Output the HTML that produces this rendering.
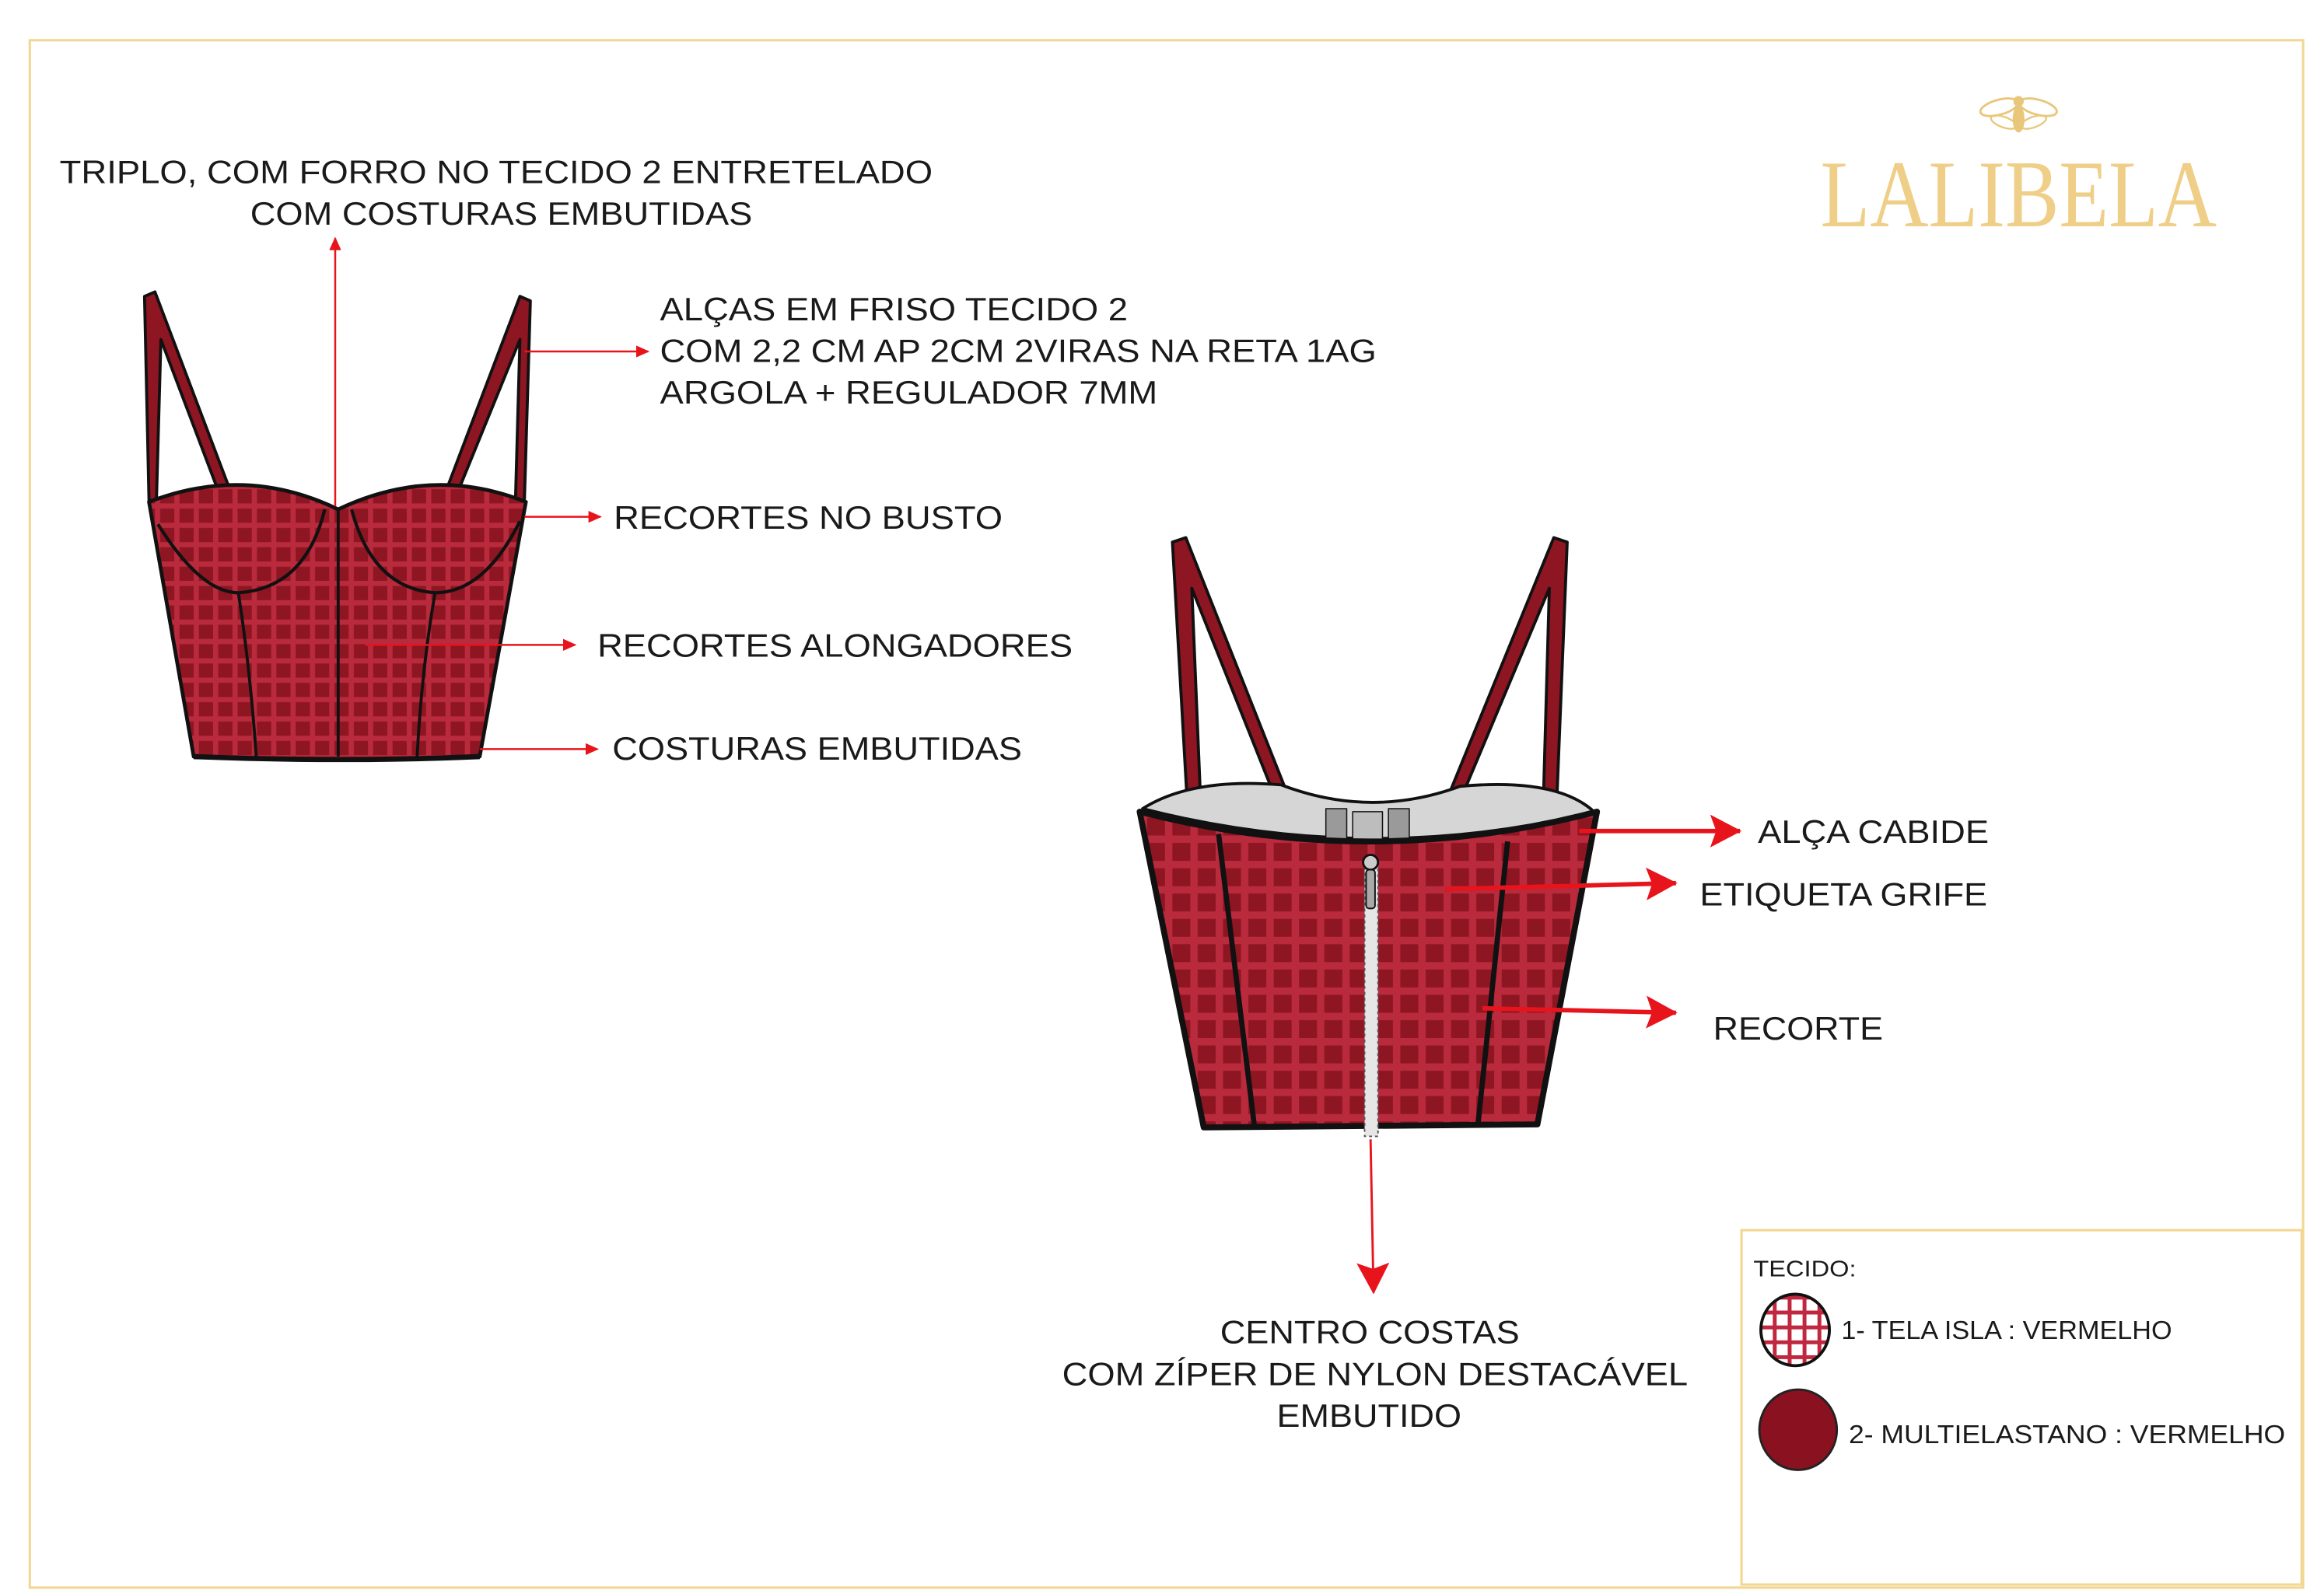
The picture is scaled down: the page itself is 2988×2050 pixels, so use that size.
<!DOCTYPE html>
<html><head><meta charset="utf-8"><style>
html,body{margin:0;padding:0;background:#fff;}
svg{display:block;}
text{font-family:"Liberation Sans",sans-serif;fill:#1a1a1a;}
</style></head><body>
<svg width="2988" height="2050" viewBox="0 0 1560 1070.3" xmlns="http://www.w3.org/2000/svg">
<defs>
<pattern id="chk" width="13" height="13" patternUnits="userSpaceOnUse">
<rect width="13" height="13" fill="#8e1522"/>
<rect x="0" y="0" width="13" height="3.5" fill="#b82a3c"/>
<rect x="0" y="0" width="3.5" height="13" fill="#b82a3c"/>
</pattern>
<pattern id="chk2" width="17" height="17" patternUnits="userSpaceOnUse">
<rect width="17" height="17" fill="#8e1522"/>
<rect x="0" y="0" width="17" height="5" fill="#b82a3c"/>
<rect x="0" y="0" width="5" height="17" fill="#b82a3c"/>
</pattern>
<pattern id="leg" width="10" height="10" patternUnits="userSpaceOnUse">
<rect width="10" height="10" fill="#fff"/>
<rect width="10" height="2.6" fill="#c0283f"/>
<rect width="2.6" height="10" fill="#c0283f"/>
</pattern>
<marker id="ah" markerWidth="10" markerHeight="10" refX="8" refY="5" orient="auto" markerUnits="userSpaceOnUse">
<path d="M0,1 L9,5 L0,9 Z" fill="#e8141c"/>
</marker>
<marker id="ahb" markerWidth="22" markerHeight="22" refX="20" refY="11" orient="auto" markerUnits="userSpaceOnUse">
<path d="M0,0 L21,11 L0,22 L4,11 Z" fill="#e8141c"/>
</marker>
</defs>
<rect x="20" y="27" width="1526" height="1039" fill="none" stroke="#f2d792" stroke-width="1.6"/>
<rect x="1169" y="826" width="376" height="238" fill="none" stroke="#f2d792" stroke-width="1.6"/>

<!-- logo -->
<g fill="#e9c77a">
<ellipse cx="1355" cy="80" rx="4" ry="9"/>
<circle cx="1355" cy="68" r="3.5"/>
<ellipse cx="1342" cy="72" rx="13" ry="5" transform="rotate(-15 1342 72)" fill="none" stroke="#e9c77a" stroke-width="1.5"/>
<ellipse cx="1368" cy="72" rx="13" ry="5" transform="rotate(15 1368 72)" fill="none" stroke="#e9c77a" stroke-width="1.5"/>
<ellipse cx="1345" cy="82" rx="9" ry="3.5" transform="rotate(20 1345 82)" fill="none" stroke="#e9c77a" stroke-width="1.2"/>
<ellipse cx="1365" cy="82" rx="9" ry="3.5" transform="rotate(-20 1365 82)" fill="none" stroke="#e9c77a" stroke-width="1.2"/>
</g>
<text x="1222" y="152" style="font-family:'Liberation Serif',serif;fill:#efcf87" font-size="64" textLength="266" lengthAdjust="spacingAndGlyphs">LALIBELA</text>

<!-- front garment -->
<g stroke="#111" stroke-linejoin="round">
<path d="M97,199 L104,196 L154,328 L147,331 L108,228 L105,336 L100,336 Z" fill="#8e1522" stroke-width="2"/>
<path d="M356,202 L349,199 L300,328 L307,331 L349,228 L346,336 L352,336 Z" fill="#8e1522" stroke-width="2"/>
<path d="M100,337 Q165,312 227,342 Q290,312 353,337 L322,508 Q230,512 130,508 Z" fill="url(#chk)" stroke-width="2.5"/>
<path d="M106,352 Q135,398 160,398 Q205,395 218,342" fill="none" stroke-width="2.2"/>
<path d="M236,342 Q250,395 292,398 Q325,398 349,350" fill="none" stroke-width="2.2"/>
<path d="M227,342 L227,508 M160,398 Q168,450 172,508 M292,398 Q283,450 280,508" fill="none" stroke-width="2"/>
<path d="M130,508 Q230,512 322,508" fill="none" stroke-width="3.5"/>
</g>

<!-- back garment -->
<g stroke="#111" stroke-linejoin="round">
<path d="M787,364 L796,361 L863,530 L855,533 L800,395 L806,540 L797,540 Z" fill="#8e1522" stroke-width="2"/>
<path d="M1052,364 L1043,361 L974,530 L982,533 L1040,395 L1036,538 L1045,538 Z" fill="#8e1522" stroke-width="2"/>
<path d="M767,543 Q800,522 860,527 Q920,550 980,528 Q1045,522 1070,545 Q920,582 767,543 Z" fill="#d6d6d6" stroke-width="2"/>
<rect x="890" y="543" width="14" height="28" fill="#9a9a9a" stroke-width="0.8"/>
<rect x="932" y="543" width="14" height="28" fill="#9a9a9a" stroke-width="0.8"/>
<rect x="908" y="545" width="20" height="28" fill="#bdbdbd" stroke-width="0.8"/>
<path d="M765,545 Q920,585 1072,545 L1032,755 L808,757 Z" fill="url(#chk2)" stroke-width="4"/>
<path d="M818,560 L842,756 M1012,565 L992,756" fill="none" stroke-width="3.5"/>
<rect x="916" y="580" width="9" height="183" fill="#e6e6e6" stroke="#555" stroke-width="1" stroke-dasharray="2 2"/>
<circle cx="920" cy="579" r="5" fill="#ccc" stroke-width="1.5"/>
<rect x="917" y="584" width="6" height="26" rx="2" fill="#aaa" stroke-width="1"/>
</g>

<!-- arrows -->
<g stroke="#e8141c" stroke-width="1.3" fill="none">
<line x1="225" y1="340" x2="225" y2="160" marker-end="url(#ah)"/>
<line x1="352" y1="236" x2="435" y2="236" marker-end="url(#ah)"/>
<line x1="352" y1="347" x2="403" y2="347" marker-end="url(#ah)"/>
<line x1="245" y1="433" x2="386" y2="433" marker-end="url(#ah)"/>
<line x1="322" y1="503" x2="401" y2="503" marker-end="url(#ah)"/>
<line x1="920" y1="765" x2="922" y2="868" marker-end="url(#ahb)" stroke-width="1.5"/>
</g>
<g stroke="#e8141c" stroke-width="3" fill="none">
<line x1="1060" y1="558" x2="1168" y2="558" marker-end="url(#ahb)"/>
<line x1="970" y1="597" x2="1125" y2="593" marker-end="url(#ahb)"/>
<line x1="995" y1="677" x2="1125" y2="680" marker-end="url(#ahb)"/>
</g>

<!-- labels -->
<g font-size="22" lengthAdjust="spacingAndGlyphs">
<text x="40" y="123" textLength="586" lengthAdjust="spacingAndGlyphs">TRIPLO, COM FORRO NO TECIDO 2 ENTRETELADO</text>
<text x="168" y="151" textLength="337" lengthAdjust="spacingAndGlyphs">COM COSTURAS EMBUTIDAS</text>
<text x="443" y="215" textLength="314" lengthAdjust="spacingAndGlyphs">ALÇAS EM FRISO TECIDO 2</text>
<text x="443" y="243" textLength="481" lengthAdjust="spacingAndGlyphs">COM 2,2 CM AP 2CM 2VIRAS NA RETA 1AG</text>
<text x="443" y="271" textLength="334" lengthAdjust="spacingAndGlyphs">ARGOLA + REGULADOR 7MM</text>
<text x="412" y="355" textLength="261" lengthAdjust="spacingAndGlyphs">RECORTES NO BUSTO</text>
<text x="401" y="441" textLength="319" lengthAdjust="spacingAndGlyphs">RECORTES ALONGADORES</text>
<text x="411" y="510" textLength="275" lengthAdjust="spacingAndGlyphs">COSTURAS EMBUTIDAS</text>
<text x="1180" y="566" textLength="155" lengthAdjust="spacingAndGlyphs">ALÇA CABIDE</text>
<text x="1141" y="608" textLength="193" lengthAdjust="spacingAndGlyphs">ETIQUETA GRIFE</text>
<text x="1150" y="698" textLength="114" lengthAdjust="spacingAndGlyphs">RECORTE</text>
<text x="819" y="902" textLength="201" lengthAdjust="spacingAndGlyphs">CENTRO COSTAS</text>
<text x="713" y="930" textLength="420" lengthAdjust="spacingAndGlyphs">COM ZÍPER DE NYLON DESTACÁVEL</text>
<text x="857" y="958" textLength="124" lengthAdjust="spacingAndGlyphs">EMBUTIDO</text>
</g>

<!-- legend -->
<text x="1177" y="857" font-size="15" textLength="69" lengthAdjust="spacingAndGlyphs">TECIDO:</text>
<ellipse cx="1205" cy="893" rx="23" ry="24" fill="url(#leg)" stroke="#111" stroke-width="2"/>
<text x="1236" y="899" font-size="17.5" textLength="222" lengthAdjust="spacingAndGlyphs">1- TELA ISLA : VERMELHO</text>
<ellipse cx="1207" cy="960" rx="26" ry="27" fill="#8a111f" stroke="#222" stroke-width="1.5"/>
<text x="1241" y="969" font-size="17.5" textLength="293" lengthAdjust="spacingAndGlyphs">2- MULTIELASTANO  : VERMELHO</text>
</svg>
</body></html>
